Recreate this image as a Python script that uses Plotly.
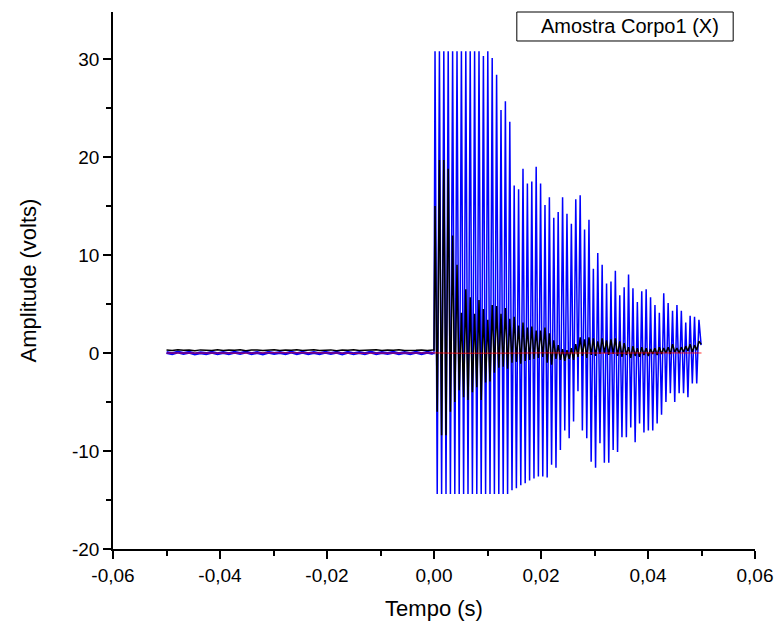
import numpy as np
import plotly.graph_objects as go

# ---------------- data ----------------
# pre-trigger samples (t from -0.05 s to 0 s)
blue_pre = [0.06, -0.08, 0.09, -0.05, 0.07, -0.09, 0.03, -0.06, 0.08, -0.07, 0.05, -0.08,
            0.07, -0.04, 0.09, -0.07, 0.06, -0.09, 0.08, -0.05, 0.04, -0.08, 0.09, -0.06,
            0.07, -0.08, 0.05, -0.07, 0.08, -0.04, 0.07, -0.09, 0.08, -0.06, 0.05, -0.07,
            0.09, -0.08, 0.06, -0.05, 0.07, -0.08, 0.04, -0.07, 0.08, -0.06, 0.07, -0.05]
black_pre = [0.30, 0.25, 0.33, 0.27, 0.31, 0.24, 0.32, 0.28, 0.26, 0.34, 0.25, 0.31,
             0.28, 0.33, 0.24, 0.30, 0.32, 0.26, 0.29, 0.34, 0.25, 0.31, 0.27, 0.33,
             0.25, 0.30, 0.33, 0.26, 0.28, 0.32, 0.24, 0.31, 0.28, 0.34, 0.26, 0.30,
             0.27, 0.33, 0.25, 0.31, 0.29, 0.33, 0.25, 0.30, 0.28, 0.32, 0.26, 0.31]

# post-trigger: per-cycle maxima / minima of the blue and black signals
blue_peaks = [30.8, 30.8, 30.8, 30.8, 30.8, 30.8, 30.8, 30.8, 30.8, 30.8, 30.8, 30.3, 30.8,
              30.1, 28.4, 24.8, 25.7, 23.6, 17.1, 16.7, 18.8, 17.3, 17.5, 19.0, 17.3,
              15.1, 15.9, 13.8, 14.4, 15.9, 14.2, 13.2, 15.7, 16.1, 12.6, 13.6, 8.6,
              10.2, 9.0, 7.1, 7.3, 8.4, 5.9, 6.7, 8.0, 6.6, 5.2, 6.3, 6.5, 5.7, 4.9,
              4.1, 6.1, 5.1, 4.3, 4.9, 4.3, 3.1, 3.8, 3.7, 3.4]
blue_troughs = [-14.4, -14.4, -14.4, -14.4, -14.4, -14.4, -14.4, -14.4, -14.4, -14.4, -14.4,
                -14.4, -14.4, -14.4, -14.4, -14.4, -14.4, -14.0, -13.8, -13.5, -13.3, -13.0,
                -12.8, -12.6, -12.6, -12.7, -11.4, -11.7, -9.9, -7.9, -8.7, -7.0, -3.9,
                -7.9, -8.7, -11.1, -11.7, -9.2, -11.2, -11.2, -9.9, -10.1, -8.6, -8.6,
                -7.6, -9.1, -7.2, -8.1, -7.9, -7.9, -7.2, -6.3, -5.0, -4.1, -5.0, -4.1,
                -4.1, -4.5, -3.1, -3.1, 0.8]
black_peaks = [15.0, 19.7, 19.7, 18.8, 12.0, 9.0, 4.1, 6.5, 5.7, 4.0, 5.4, 4.5, 3.4,
               4.9, 4.8, 4.0, 4.6, 3.5, 3.7, 2.8, 3.1, 2.6, 2.7, 2.3, 2.3, 2.6, 2.0,
               1.3, 0.8, 0.4, 0.3, 0.5, 0.9, 1.6, 1.4, 1.6, 1.5, 1.2, 1.5, 1.3, 1.4,
               1.5, 1.2, 1.0, 0.6, 0.7, 0.5, 0.6, 0.5, 0.4, 0.5, 0.6, 0.5, 0.6, 0.9,
               0.5, 0.6, 0.7, 0.9, 0.8, 1.2]
black_troughs = [-6.0, -8.4, -8.4, -6.0, -5.0, -3.8, -4.5, -4.8, -4.0, -3.5, -4.8, -3.0,
                 -2.9, -2.0, -1.5, -1.4, -1.6, -1.0, -0.9, -1.1, -0.8, -0.7, -0.6, -0.5,
                 -0.4, -1.0, -1.2, -0.6, -0.7, -0.8, -0.6, -0.7, -0.4, -0.3, -0.5, -0.2,
                 -0.3, -0.1, 0.0, -0.2, -0.1, -0.3, -0.4, -0.2, -0.5, -0.3, -0.4, -0.2,
                 -0.3, -0.1, -0.2, -0.1, 0.0, -0.1, 0.1, 0.0, 0.1, 0.2, 0.1, 0.3, 0.9]
red_vals = [0.00, -0.02, 0.01, -0.01, 0.02, -0.02, 0.01, -0.02, 0.01, -0.01, 0.01,
            -0.02, 0.02, -0.01, 0.01, -0.02, 0.01, -0.01, 0.01, -0.01, 0.00]

x_tickvals = [-0.06, -0.04, -0.02, 0.0, 0.02, 0.04, 0.06]
x_ticktext = ["-0,06", "-0,04", "-0,02", "0,00", "0,02", "0,04", "0,06"]
y_tickvals = [-20, -10, 0, 10, 20, 30]
y_ticktext = ["-20", "-10", "0", "10", "20", "30"]

legend_text = "Amostra Corpo1 (X)"

# ---------------- sample times ----------------
t_pre = np.linspace(-0.05, -0.0002, len(blue_pre))
n_cyc = len(blue_peaks)
t_peak = np.linspace(0.00019, 0.04952, n_cyc)
t_trough = t_peak + (t_peak[1] - t_peak[0]) / 2.0


def build_post(pre, peaks, troughs):
    t = [t_pre[-1], 0.0]
    y = [pre[-1], pre[-1]]
    for i in range(len(peaks)):
        t += [t_peak[i], min(t_trough[i], 0.05)]
        y += [peaks[i], troughs[i]]
    return t, y


tb, yb = build_post(blue_pre, blue_peaks, blue_troughs)
tk, yk = build_post(black_pre, black_peaks, black_troughs)
t_red = np.linspace(-0.05, 0.05, len(red_vals))

BLUE = "#0000FF"
fig = go.Figure()
fig.add_trace(go.Scatter(x=t_pre, y=blue_pre, mode="lines",
                         line=dict(color=BLUE, width=3), showlegend=False))
fig.add_trace(go.Scatter(x=tb, y=yb, mode="lines",
                         line=dict(color=BLUE, width=1.5), showlegend=False))
fig.add_trace(go.Scatter(x=t_pre, y=black_pre, mode="lines",
                         line=dict(color="#000000", width=1.5), showlegend=False))
fig.add_trace(go.Scatter(x=tk, y=yk, mode="lines",
                         line=dict(color="#000000", width=1.5), showlegend=False))
fig.add_trace(go.Scatter(x=t_red, y=red_vals, mode="lines",
                         line=dict(color="#FF0000", width=1), opacity=0.8, showlegend=False))

font_family = "Liberation Sans, Arial, sans-serif"

fig.update_layout(
    width=778, height=629,
    margin=dict(l=113, r=23, t=12, b=80, autoexpand=False),
    paper_bgcolor="white", plot_bgcolor="white",
    font=dict(family=font_family, size=20, color="black"),
    showlegend=False,
    xaxis=dict(
        range=[-0.06, 0.06], tickmode="array", tickvals=x_tickvals, ticktext=x_ticktext,
        ticks="outside", ticklen=8, tickwidth=1.5, tickcolor="black",
        showline=True, linecolor="black", linewidth=1.5,
        showgrid=False, zeroline=False, automargin=False,
        minor=dict(ticks="outside", ticklen=5, tickwidth=1.5, tickcolor="black",
                   dtick=0.01, tick0=0, showgrid=False),
        tickfont=dict(size=19),
        title=dict(text="Tempo (s)", font=dict(size=22), standoff=16),
    ),
    yaxis=dict(
        range=[-20, 34.8], tickmode="array", tickvals=y_tickvals, ticktext=y_ticktext,
        ticks="outside", ticklen=8, tickwidth=1.5, tickcolor="black",
        showline=True, linecolor="black", linewidth=1.5,
        showgrid=False, zeroline=False, automargin=False,
        minor=dict(ticks="outside", ticklen=5, tickwidth=1.5, tickcolor="black",
                   dtick=5, tick0=0, showgrid=False),
        tickfont=dict(size=19),
        title=dict(text="Amplitude (volts)", font=dict(size=22), standoff=29),
    ),
)

# legend box (Origin style)
fig.add_shape(type="rect", xref="paper", yref="paper",
              x0=0.629, x1=0.966, y0=0.946, y1=1.0,
              line=dict(color="black", width=1), fillcolor="white", layer="above")
fig.add_annotation(xref="paper", yref="paper", x=0.806, y=0.973,
                   text=legend_text, showarrow=False,
                   font=dict(size=20, family=font_family), xanchor="center", yanchor="middle")

fig.write_html("out.html")
